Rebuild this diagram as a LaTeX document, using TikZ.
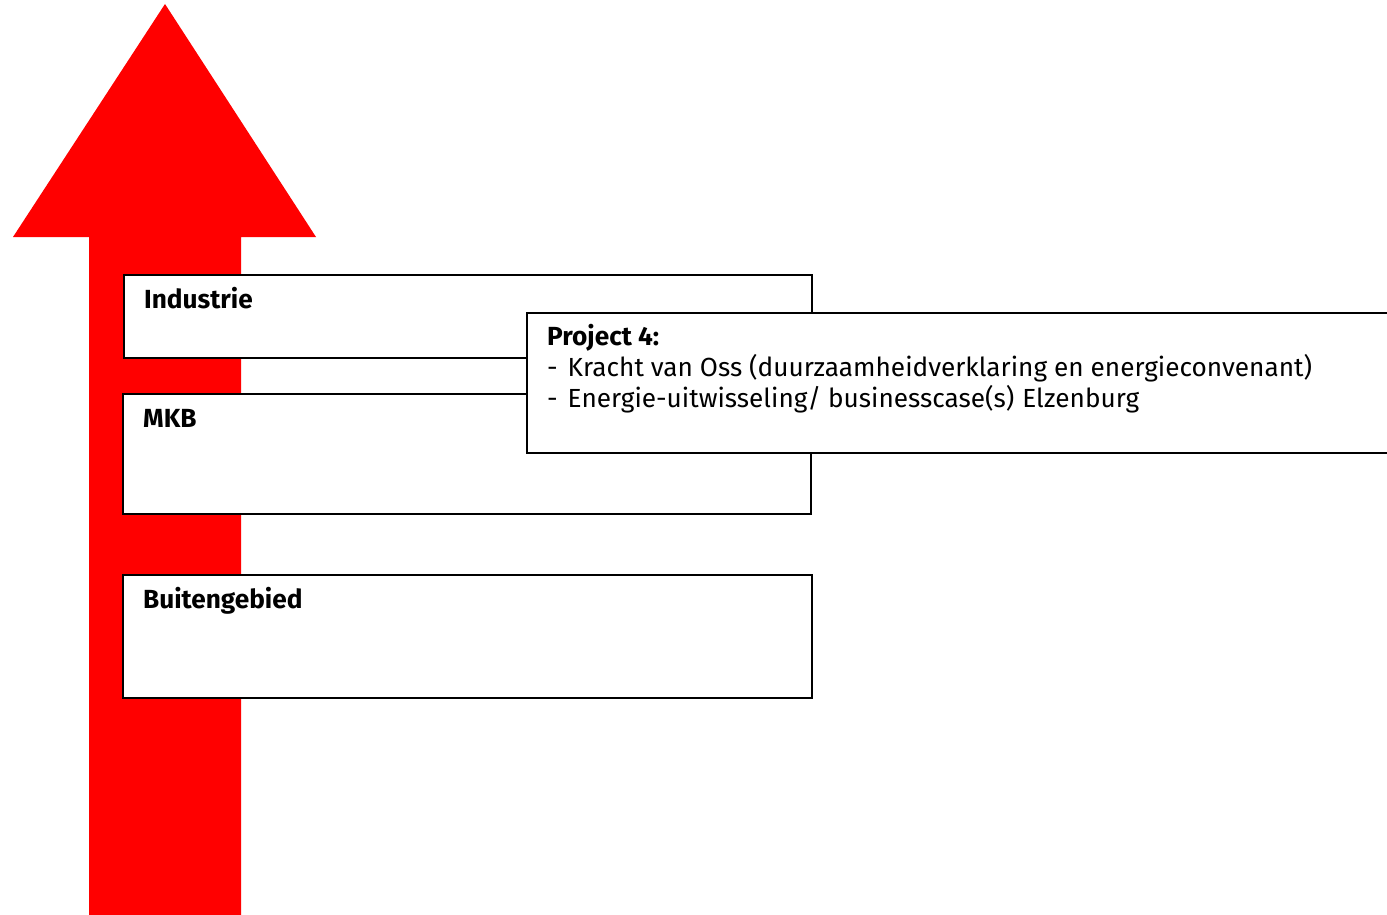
\documentclass[tikz,border=0pt]{standalone}
\usepackage{fontspec}
\setmainfont{Fira Sans}
\definecolor{arrowred}{RGB}{255,0,0}
\begin{document}
\begin{tikzpicture}[x=1pt,y=-1pt,
  box/.style={draw=black,line width=2pt,fill=white,anchor=north west,inner sep=0pt},
  lbl/.style={anchor=base west,inner sep=0pt,font=\fontsize{26.2}{30}\selectfont\bfseries},
  txt/.style={anchor=base west,inner sep=0pt,font=\fontsize{26.2}{30}\selectfont}]
\useasboundingbox (0,0) rectangle (1387,915);
\clip (0,0) rectangle (1387,915);
% arrow
\fill[arrowred] (89,915) -- (89,237) -- (13,237) -- (165,4) -- (316,237) -- (241,237) -- (241,915) -- cycle;
% boxes
\node[box,minimum width=688pt,minimum height=83pt] (ind) at (123,274) {};
\node[lbl] (indl) at (144,308) {Industrie};
\node[box,minimum width=688pt,minimum height=120pt] (mkb) at (122,393) {};
\node[lbl] (mkbl) at (143,427) {MKB};
\node[box,minimum width=689pt,minimum height=123pt] (bui) at (122,574) {};
\node[lbl] (buil) at (143,608) {Buitengebied};
\node[box,minimum width=880pt,minimum height=140pt] (proj) at (526,312) {};
\node[lbl] (projl) at (547,345) {Project 4:};
\node[txt] (p1) at (547,376) {-\hspace{10pt}Kracht van Oss (duurzaamheidverklaring en energieconvenant)};
\node[txt] (p2) at (547,407) {-\hspace{10pt}Energie-uitwisseling/ businesscase(s)\hspace{8pt}Elzenburg};
\end{tikzpicture}
\end{document}
